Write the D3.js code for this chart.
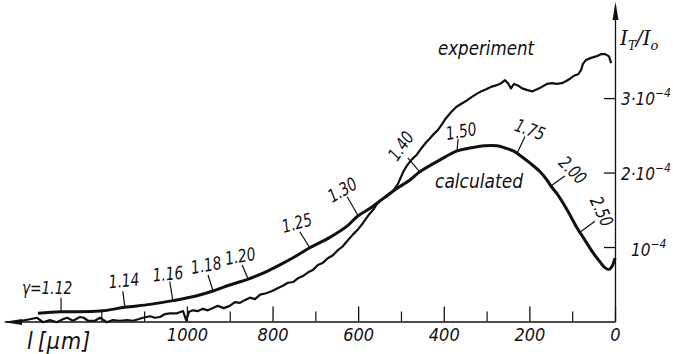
<!DOCTYPE html>
<html>
<head>
<meta charset="utf-8">
<script src="https://cdn.jsdelivr.net/npm/d3@7"></script>
<style>
body { margin: 0; background: #fff; }
text { font-family: "Liberation Sans Narrow", "DejaVu Sans Condensed", "DejaVu Sans", sans-serif; font-style: italic; fill: #111; }
</style>
</head>
<body>
<div class="chart"></div>
<script>
// length l in micrometres, intensity ratio in units of 1e-4
let expL = [1386, 1367, 1350, 1336, 1320, 1304, 1290, 1280, 1266, 1250, 1241, 1231, 1215, 1203, 1187, 1173,
    1157, 1140, 1126, 1114, 1103, 1086, 1075, 1063, 1051, 1040, 1023, 1009, 1002, 995, 986, 974, 963, 951,
    939, 928, 914, 900, 888, 876, 864, 853, 841, 829, 815, 801, 787, 776, 764, 752, 741, 729, 717, 706, 694,
    682, 671, 659, 647, 636, 624, 612, 600, 589, 577, 565, 556, 547, 535, 526, 516, 507, 500, 493, 484, 474,
    463, 453, 442, 432, 423, 414, 404, 395, 383, 371, 360, 348, 336, 325, 313, 301, 290, 278, 266, 257, 250,
    243, 236, 227, 217, 206, 194, 182, 171, 159, 147, 136, 124, 114, 105, 96, 86, 79, 75, 68, 56, 44, 33, 23,
    14, 9];
let expI = [0.01, 0.03, 0.05, -0.01, 0.02, -0.01, 0.03, 0.05, 0.01, 0.06, 0.05, 0.01, 0.01, 0.05, -0.01, 0.02,
    0.01, 0.02, 0.01, 0.03, 0.05, 0.07, 0.05, 0.06, 0.10, 0.11, 0.11, 0.14, 0.02, 0.13, 0.15, 0.14, 0.17, 0.15,
    0.18, 0.21, 0.18, 0.21, 0.26, 0.25, 0.29, 0.32, 0.30, 0.36, 0.38, 0.41, 0.45, 0.48, 0.52, 0.53, 0.58, 0.61,
    0.66, 0.69, 0.76, 0.79, 0.85, 0.89, 0.96, 1.01, 1.09, 1.17, 1.24, 1.32, 1.42, 1.50, 1.58, 1.63, 1.67, 1.71,
    1.77, 1.85, 1.94, 2.03, 2.11, 2.18, 2.24, 2.32, 2.40, 2.46, 2.52, 2.57, 2.65, 2.73, 2.81, 2.88, 2.92, 2.96,
    3.01, 3.05, 3.09, 3.12, 3.15, 3.17, 3.20, 3.24, 3.20, 3.13, 3.19, 3.17, 3.13, 3.11, 3.09, 3.12, 3.15, 3.19,
    3.20, 3.19, 3.20, 3.23, 3.26, 3.30, 3.32, 3.38, 3.46, 3.51, 3.54, 3.56, 3.59, 3.59, 3.56, 3.47];

let calcL = [1348, 1294, 1203, 1145, 1086, 1033, 981, 939, 900, 857, 818, 783, 748, 713, 666, 626, 600, 572,
    549, 514, 479, 456, 409, 369, 339, 304, 276, 257, 238, 217, 199, 175, 159, 150, 136, 112, 89, 70, 51, 35,
    23, 14, 7, 0];
let calcI = [0.11, 0.13, 0.14, 0.19, 0.23, 0.28, 0.34, 0.41, 0.49, 0.57, 0.66, 0.76, 0.87, 0.99, 1.13, 1.28,
    1.42, 1.52, 1.62, 1.77, 1.90, 2.01, 2.17, 2.29, 2.33, 2.36, 2.36, 2.33, 2.29, 2.21, 2.13, 2.01, 1.90, 1.82,
    1.72, 1.50, 1.26, 1.09, 0.92, 0.80, 0.72, 0.70, 0.74, 0.85];

// gamma values marked along the calculated curve and where they sit (l, um)
let gammaText = ['γ=1.12', '1.14', '1.16', '1.18', '1.20', '1.25', '1.30', '1.40', '1.50', '1.75', '2.00', '2.50'];
let gammaAt = [1294, 1145, 1033, 939, 857, 713, 600, 456, 369, 229, 150, 82];

let xLabelTicks = [0, 200, 400, 600, 800, 1000];
let xMinorTicks = [100, 300, 500, 700, 900, 1100, 1200];
let yTicks = [1, 2, 3];
let yTickMant = {1: '10', 2: '2·10', 3: '3·10'};

// label placement: tick end and text centre relative to the curve point, text angle
let gammaLayout = [
    {tx: 0, ty: -14, cx: -14, cy: -24, r: 0},
    {tx: -2, ty: -16, cx: -1, cy: -27, r: -5},
    {tx: -3, ty: -19, cx: -5, cy: -27, r: -5},
    {tx: -5, ty: -16, cx: -7, cy: -26, r: -10},
    {tx: -6, ty: -14, cx: -8, cy: -23, r: -10},
    {tx: -10, ty: -16, cx: -13, cy: -25, r: -15},
    {tx: -11, ty: -19, cx: -16, cy: -26, r: -30},
    {tx: -12, ty: -14, cx: -19, cy: -26, r: -55},
    {tx: 1, ty: -12, cx: 4, cy: -20, r: -10},
    {tx: 8, ty: -17, cx: 13, cy: -24, r: 20},
    {tx: 14, ty: -10, cx: 22, cy: -16, r: 45},
    {tx: 15, ty: -11, cx: 22, cy: -21, r: 65}
];

function drawChart() {
    let svg = d3.select('.chart').append('svg')
        .attr('width', 673)
        .attr('height', 354);

    let x = d3.scaleLinear().domain([1425, 0]).range([5, 615]);
    let y = d3.scaleLinear().domain([0, 4.25]).range([321.5, 5]);

    // x axis, ticks pointing up, labels below
    let xAxis = svg.append('g')
        .attr('transform', 'translate(0,' + y(0) + ')')
        .call(d3.axisBottom(x).tickValues(xLabelTicks).tickSizeInner(-15).tickSizeOuter(0)
            .tickPadding(7).tickFormat(d3.format('d')));
    xAxis.selectAll('text').style('font-size', '18px');
    xAxis.selectAll('line, path').attr('stroke', '#111').attr('stroke-width', 1.3);

    svg.append('g')
        .attr('transform', 'translate(0,' + y(0) + ')')
        .call(d3.axisBottom(x).tickValues(xMinorTicks).tickSizeInner(-10).tickSizeOuter(0).tickFormat(''))
        .call(g => g.select('.domain').remove())
        .selectAll('line').attr('stroke', '#111').attr('stroke-width', 1.2);

    // y axis on the right
    svg.append('g')
        .attr('transform', 'translate(' + x(0) + ',0)')
        .call(d3.axisRight(y).tickValues(yTicks).tickSizeInner(-11).tickSizeOuter(0).tickFormat(''))
        .selectAll('line, path').attr('stroke', '#111').attr('stroke-width', 1.3);

    // arrow heads
    svg.append('path')
        .attr('d', 'M' + (x(0) + 0.5) + ',2 L' + (x(0) + 3.5) + ',20 L' + (x(0) - 2.5) + ',20 Z')
        .attr('fill', '#111');
    svg.append('path')
        .attr('d', 'M3,' + (y(0) + 0.5) + ' L22,' + (y(0) - 2.5) + ' L22,' + (y(0) + 3.5) + ' Z')
        .attr('fill', '#111');

    // y tick labels with power of ten
    yTicks.forEach(v => {
        let t = svg.append('text')
            .attr('x', v === 1 ? 631 : 621)
            .attr('y', y(v) + (v === 1 ? 9 : 7))
            .style('font-size', '17px');
        t.append('tspan').text(yTickMant[v]);
        t.append('tspan').attr('dy', -8).style('font-size', '12px').text('−4');
    });

    // axis titles
    let yt = svg.append('text').attr('x', 620).attr('y', 45)
        .style('font-size', '20px').style('font-family', '"DejaVu Serif", serif');
    yt.append('tspan').text('I');
    yt.append('tspan').attr('dy', 5).style('font-size', '12px').text('T');
    yt.append('tspan').attr('dy', -5).text('/I');
    yt.append('tspan').attr('dy', 5).style('font-size', '13px').text('o');

    let xt = svg.append('text').attr('x', 27).attr('y', 349).style('font-size', '23px');
    xt.append('tspan').text('l');
    xt.append('tspan').attr('dx', 5).style('letter-spacing', '1px').text('[μm]');

    // curves
    let expData = expL.map((l, i) => [l, expI[i]]);
    let calcData = calcL.map((l, i) => [l, calcI[i]]);

    svg.append('path')
        .datum(expData)
        .attr('fill', 'none')
        .attr('stroke', '#111')
        .attr('stroke-width', 2.2)
        .attr('stroke-linejoin', 'round')
        .attr('d', d3.line().x(d => x(d[0])).y(d => y(d[1])).curve(d3.curveLinear));

    svg.append('path')
        .datum(calcData)
        .attr('fill', 'none')
        .attr('stroke', '#111')
        .attr('stroke-width', 3)
        .attr('d', d3.line().x(d => x(d[0])).y(d => y(d[1])).curve(d3.curveCatmullRom));

    // gamma marks on the calculated curve
    let calcAt = function (l) {
        for (let i = 0; i < calcL.length - 1; i++) {
            if (l <= calcL[i] && l >= calcL[i + 1]) {
                let f = (calcL[i] - l) / (calcL[i] - calcL[i + 1]);
                return calcI[i] + f * (calcI[i + 1] - calcI[i]);
            }
        }
        return calcI[0];
    };
    gammaAt.forEach((l, i) => {
        let px = x(l), py = y(calcAt(l));
        let lay = gammaLayout[i];
        svg.append('line')
            .attr('x1', px).attr('y1', py)
            .attr('x2', px + lay.tx).attr('y2', py + lay.ty)
            .attr('stroke', '#111').attr('stroke-width', 1.2);
        svg.append('text')
            .attr('transform', 'translate(' + (px + lay.cx) + ',' + (py + lay.cy) + ') rotate(' + lay.r + ') scale(0.85,1)')
            .attr('text-anchor', 'middle')
            .attr('dy', '0.36em')
            .style('font-size', '18px')
            .text(gammaText[i]);
    });

    svg.append('text').attr('x', 438).attr('y', 55).style('font-size', '20px')
        .attr('textLength', 96).attr('lengthAdjust', 'spacingAndGlyphs').text('experiment');
    svg.append('text').attr('x', 435).attr('y', 188).style('font-size', '20px')
        .attr('textLength', 88).attr('lengthAdjust', 'spacingAndGlyphs').text('calculated');
}

drawChart();
</script>
</body>
</html>
